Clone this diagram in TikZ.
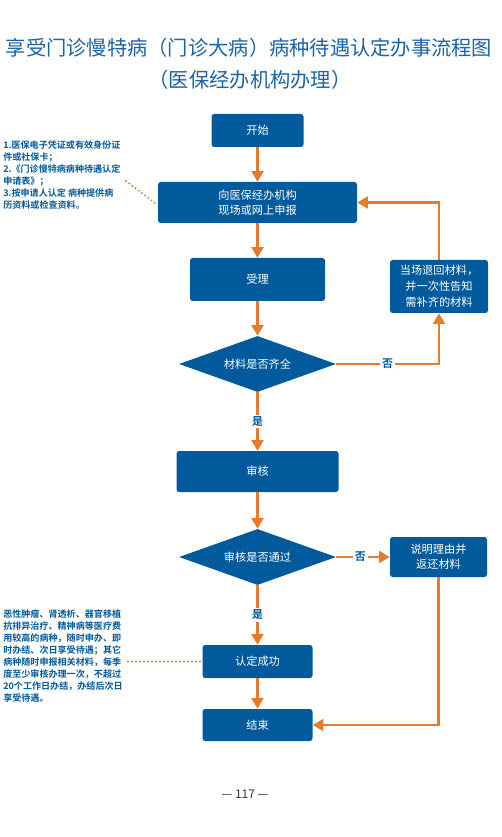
\documentclass[tikz,border=0pt]{standalone}
\usepackage{fontspec}
\setmainfont{Noto Sans CJK SC}[BoldFont={Noto Sans CJK SC Bold}]
\usetikzlibrary{arrows.meta,shapes.geometric}
\definecolor{boxblue}{HTML}{005A9C}
\definecolor{arrorange}{HTML}{E87A2C}
\definecolor{titleblue}{HTML}{1B64A8}
\definecolor{pagegrey}{HTML}{333333}
\begin{document}
\begin{tikzpicture}[x=0.75pt,y=-0.75pt,
  box/.style={fill=boxblue,rounded corners=2pt,text=white,font=\fontsize{8.4}{11}\selectfont,align=center,inner sep=0pt},
  dia/.style={diamond,fill=boxblue,text=white,font=\fontsize{8.4}{11}\selectfont,inner sep=0pt,aspect=2.8,minimum width=117.75pt,minimum height=42pt},
  flow/.style={draw=arrorange,line width=1.6pt,-{Triangle[width=9pt,length=8pt]}},
  dotline/.style={draw=arrorange,line width=1.6pt,line cap=round,dash pattern=on 0pt off 3pt},
  lbl/.style={fill=white,text=boxblue,font=\bfseries\fontsize{8.2}{10}\selectfont,inner sep=1.5pt},
  note/.style={text=boxblue,font=\bfseries\fontsize{6.8}{9}\selectfont,align=left,inner sep=0pt,anchor=north west}
]
\useasboundingbox (0,0) rectangle (501,837);
\fill[white] (0,0) rectangle (501,837);

% title
\node[text=titleblue,font=\fontsize{15.2}{18}\selectfont] (title1) at (249,48) {享受门诊慢特病（门诊大病）病种待遇认定办事流程图};
\node[text=titleblue,font=\fontsize{15.2}{18}\selectfont] (title2) at (250,80) {（医保经办机构办理）};

% boxes
\node[box,minimum width=69pt,minimum height=24.75pt] (start) at (257.5,130.5) {开始};
\node[box,minimum width=149.25pt,minimum height=30.75pt] (apply) at (257.5,202.5) {向医保经办机构\\现场或网上申报};
\node[box,minimum width=101.25pt,minimum height=32.25pt] (accept) at (257.5,279.5) {受理};
\node[box,minimum width=73.5pt,minimum height=39.75pt,font=\fontsize{8.4}{12}\selectfont] (ret) at (439,286.5) {当场退回材料，\\并一次性告知\\需补齐的材料};
\node[dia] (d1) at (257.5,364) {材料是否齐全};
\node[box,minimum width=121.5pt,minimum height=30.75pt] (audit) at (257.5,471.5) {审核};
\node[dia] (d2) at (257.5,557) {审核是否通过};
\node[box,minimum width=72.75pt,minimum height=30pt] (expl) at (438.5,557) {说明理由并\\返还材料};
\node[box,minimum width=82.5pt,minimum height=24.75pt] (ok) at (257.5,661.5) {认定成功};
\node[box,minimum width=82.5pt,minimum height=24pt] (fin) at (257.5,725) {结束};

% main flow
\draw[flow] (start) -- (apply);
\draw[flow] (apply) -- (accept);
\draw[flow] (accept) -- (d1);
\draw[flow] (d1) -- node[lbl,pos=0.5] (yes1) {是} (audit);
\draw[flow] (audit) -- (d2);
\draw[flow] (d2) -- node[lbl,pos=0.5] (yes2) {是} (ok);
\draw[flow] (ok) -- (fin);

% branch 1
\draw[flow] (d1.east) -- node[lbl,pos=0.5] (no1) {否} (d1.east -| ret.south) -- (ret.south);
\draw[flow] (ret.north) -- (ret.north |- apply.east) -- (apply.east);

% branch 2
\draw[flow] (d2.east) -- node[lbl,pos=0.45] (no2) {否} (expl.west);
\draw[flow] (expl.south) -- (expl.south |- fin.east) -- (fin.east);

% notes
\node[note] (note1) at (3,140.5) {1.医保电子凭证或有效身份证\\件或社保卡；\\2.《门诊慢特病病种待遇认定\\申请表》；\\3.按申请人认定 病种提供病\\历资料或检查资料。};
\coordinate (n1a) at (126,181);
\coordinate (n1b) at (155,203);
\draw[dotline] (n1a) -- (n1b);

\node[note] (note2) at (3,609.5) {恶性肿瘤、肾透析、器官移植\\抗排异治疗、精神病等医疗费\\用较高的病种，随时申办、即\\时办结、次日享受待遇；其它\\病种随时申报相关材料，每季\\度至少审核办理一次，不超过\\20个工作日办结，办结后次日\\享受待遇。};
\coordinate (n2a) at (128,661.5);
\draw[dotline] (n2a) -- (ok.west);

% page number
\node[text=pagegrey,font=\fontsize{9}{11}\selectfont] (page) at (245,794) {— 117 —};
\end{tikzpicture}
\end{document}
